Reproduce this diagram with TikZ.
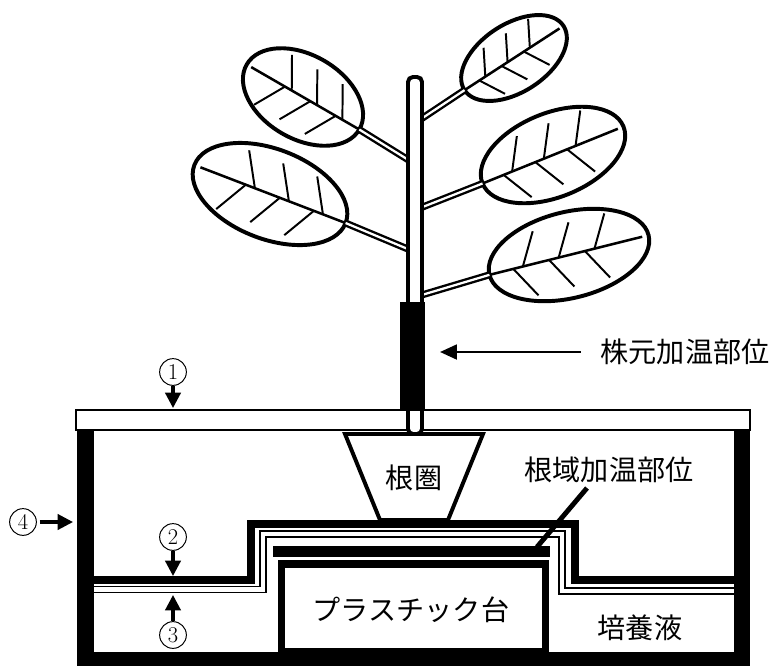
\documentclass[tikz,border=0pt]{standalone}
\usepackage{fontspec}
\newfontfamily\jpfont{Noto Sans CJK JP}
\usetikzlibrary{arrows.meta}

\tikzset{
  jp/.style={font=\jpfont\fontsize{20}{24}\selectfont, inner sep=0pt},
  numlabel/.style={circle, draw, line width=0.7pt, inner sep=0pt,
    minimum size=19pt, font=\fontsize{16}{16}\selectfont},
  numarrow/.style={-{Triangle[length=11pt,width=11pt]}, line width=2.2pt},
  labelarrow/.style={-{Triangle[length=12pt,width=10.5pt]}, line width=1.8pt},
  leafline/.style={line width=2.8pt, fill=white},
  midrib/.style={line width=1.8pt},
  vein/.style={line width=1.4pt},
  petiole/.style={double, double distance=1.6pt, line width=1.7pt},
  stemline/.style={line width=2.8pt, fill=white, rounded corners=3.5pt},
  mat/.style={line width=5pt},
  sheet/.style={double, double distance=3.2pt, line width=1.2pt},
  leader/.style={line width=3.5pt}
}

\begin{document}
\begin{tikzpicture}[x=0.025cm, y=-0.025cm]
  \useasboundingbox (0,0) rectangle (776,666);

  % leaves: number / centre / angle / radii / where the petiole meets the stem
  \foreach \n/\cx/\cy/\ang/\a/\b/\jx/\jy in {
      1/303/97/150/65/42/415/164,
      2/270/194/159/81/45/415/252,
      3/514/58/33/59/34/415/123,
      4/553/155/22/76/42/415/210,
      5/569/255/14/82/43/415/297}
  {
    \begin{scope}[shift={(\cx,\cy)}, rotate=\ang]
      \draw[leafline] (0,0) ellipse [x radius=\a, y radius=\b];
      \draw[midrib] (-\a,0) -- ({0.92*\a},0);
      \foreach \t in {-0.7,-0.25,0.2} {
        \draw[vein] ({\t*\a},0) -- ++({0.42*\b},{0.74*\b});
        \draw[vein] ({(\t+0.12)*\a},0) -- ++({0.42*\b},{-0.74*\b});
      }
      \coordinate (base\n) at (-\a,0);
    \end{scope}
    \coordinate (join\n) at (\jx,\jy);
    \draw[petiole] (base\n) -- (join\n);
  }

  % growing box
  \draw[mat] (94,580) -- (251,580) -- (251,524) -- (575,524) -- (575,580) -- (734,580);
  \draw[sheet] (94,589.5) -- (263,589.5) -- (263,534) -- (562,534) -- (562,591) -- (734,591);
  \fill (273,546) rectangle (550,557);
  \draw[mat, fill=white] (281.5,564) rectangle (545.5,652);
  \fill (77,430) rectangle (94,666);
  \fill (734,430) rectangle (750,666);
  \fill (77,652) rectangle (750,666);

  % lid and root zone
  \draw[line width=1.4pt, fill=white] (76,410) rectangle (750,430);
  \draw[line width=2.8pt, fill=white] (345,434) -- (483,434) -- (448,520) -- (380,520) -- cycle;

  % stem with the heated part
  \draw[stemline] (408,434) rectangle (422,77);
  \fill (400,302) rectangle (425,411);

  % labels
  \node[jp] (rootzone) at (414,478) {根圏};
  \node[jp] (stand) at (411,610) {プラスチック台};
  \node[jp] (solution) at (640,628) {培養液};
  \node[jp] (rootheat) at (609,470) {根域加温部位};
  \node[jp, inner xsep=14pt] (stemheat) at (685,352) {株元加温部位};

  \coordinate (stemtip) at (440,352);
  \coordinate (leadtop) at (587,488);
  \coordinate (platept) at (537,547);
  \draw[labelarrow] (stemheat.west) -- (stemtip);
  \draw[leader] (leadtop) -- (platept);

  % numbered parts
  \node[numlabel] (n1) at (173,372) {1};
  \node[numlabel] (n2) at (173,537) {2};
  \node[numlabel] (n3) at (173,635) {3};
  \node[numlabel] (n4) at (23,522) {4};
  \coordinate (n1tip) at (173,408);
  \coordinate (n2tip) at (173,576);
  \coordinate (n3tip) at (173,595);
  \coordinate (n4tip) at (73,522);
  \draw[numarrow] (n1) -- (n1tip);
  \draw[numarrow] (n2) -- (n2tip);
  \draw[numarrow] (n3) -- (n3tip);
  \draw[numarrow, shorten <=2pt] (n4) -- (n4tip);
\end{tikzpicture}
\end{document}
